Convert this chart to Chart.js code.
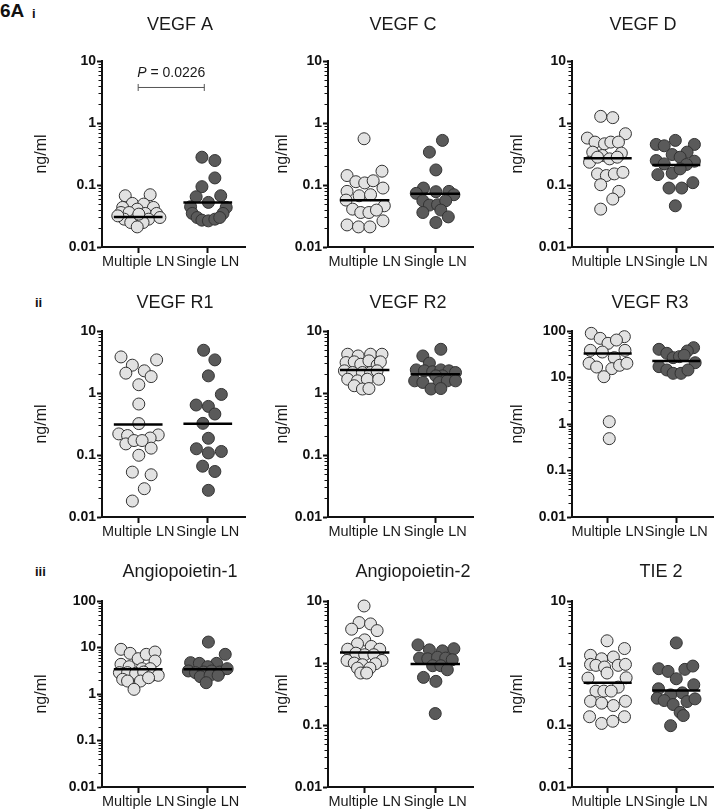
<!DOCTYPE html>
<html>
<head>
<meta charset="utf-8">
<script src="https://cdn.jsdelivr.net/npm/chart.js@4.4.1/dist/chart.umd.min.js"></script>
<style>
  body { margin: 0; background: #fff; width: 720px; height: 812px; position: relative; overflow: hidden;
         font-family: "Liberation Sans", Arial, sans-serif; }
  canvas { position: absolute; }
  .tag { position: absolute; font-weight: bold; color: #111; line-height: 1; }
</style>
</head>
<body>
<div class="tag" style="left:0;top:1px;font-size:19px">6A</div>
<div class="tag" style="left:32px;top:7px;font-size:13px">i</div>
<div class="tag" style="left:35px;top:296px;font-size:13px">ii</div>
<div class="tag" style="left:35px;top:565px;font-size:13px">iii</div>
<script>
const groups = ['Multiple LN', 'Single LN'];
const titles = ['VEGF A', 'VEGF C', 'VEGF D', 'VEGF R1', 'VEGF R2', 'VEGF R3', 'Angiopoietin-1', 'Angiopoietin-2', 'TIE 2'];
const yLabel = 'ng/ml';
const yMin = 0.01;
const yMax = [10, 10, 10, 10, 10, 100, 100, 10, 10];

// horizontal jitter (offset from group centre) and value
const vegfAMultiOff = [-0.186, 0.172, -0.084, 0.079, -0.223, -0.014, 0.219, -0.247, -0.130, 0.102, 0.265, -0.200, -0.037, 0.149, -0.107, 0.070, -0.014, -0.293, 0.312, 0.009];
const vegfAMulti = [0.0671, 0.0697, 0.0505, 0.0492, 0.0435, 0.0408, 0.0435, 0.0360, 0.0360, 0.0348, 0.0348, 0.0281, 0.0281, 0.0281, 0.0248, 0.0248, 0.0211, 0.0318, 0.0299, 0.0339];
const vegfASingleOff = [-0.084, 0.102, 0.102, -0.084, -0.167, 0.186, 0.009, -0.247, 0.265, -0.223, 0.219, -0.153, -0.084, 0.009, 0.102, 0.172];
const vegfASingle = [0.281, 0.248, 0.130, 0.094, 0.0647, 0.0671, 0.0524, 0.0446, 0.0435, 0.0348, 0.0348, 0.0299, 0.0271, 0.0264, 0.0281, 0.0299];

const vegfCMultiOff = [-0.009, -0.25, -0.125, 0, 0.12, 0.245, -0.25, 0.259, -0.079, 0.083, -0.264, 0.278, -0.171, -0.056, 0.06, 0.167, -0.25, -0.088, 0.074, 0.259];
const vegfCMulti = [0.557, 0.142, 0.113, 0.108, 0.117, 0.167, 0.0789, 0.0893, 0.0671, 0.0697, 0.0571, 0.0462, 0.0408, 0.036, 0.036, 0.0394, 0.0227, 0.0211, 0.0211, 0.0264];
const vegfCSingleOff = [0.102, -0.083, 0.009, -0.167, -0.269, 0.009, 0.194, 0.264, -0.176, -0.083, 0.032, 0.148, -0.176, 0.079, 0.185, 0.009];
const vegfCSingle = [0.524, 0.339, 0.175, 0.0893, 0.0733, 0.078, 0.0789, 0.0697, 0.0557, 0.0474, 0.048, 0.0557, 0.036, 0.0394, 0.0306, 0.0248];

const vegfDMultiOff = [-0.102, 0.074, -0.296, 0.259, -0.185, -0.046, 0.046, 0.157, -0.218, -0.079, 0.199, -0.264, -0.148, 0.028, 0.139, -0.148, -0.019, 0.097, 0.222, -0.102, 0.162, 0.074, -0.102];
const vegfDMulti = [1.28, 1.22, 0.571, 0.671, 0.492, 0.462, 0.492, 0.492, 0.339, 0.299, 0.327, 0.233, 0.281, 0.264, 0.281, 0.151, 0.142, 0.151, 0.160, 0.101, 0.0789, 0.0593, 0.0408];
const vegfDSingleOff = [-0.292, -0.176, -0.014, 0.264, 0.157, -0.060, 0.056, -0.292, -0.176, 0.264, 0.148, -0.269, -0.060, 0.056, 0.241, -0.106, 0.079, -0.014];
const vegfDSingle = [0.451, 0.429, 0.524, 0.451, 0.339, 0.310, 0.281, 0.248, 0.219, 0.242, 0.214, 0.147, 0.155, 0.182, 0.109, 0.0893, 0.0893, 0.0462];

const vegfR1MultiOff = [-0.247, -0.084, 0.265, -0.177, 0.088, 0.186, 0.009, 0.009, 0.009, -0.279, -0.153, 0.288, 0.172, -0.177, -0.060, 0.056, 0.186, 0.009, -0.084, 0.186, 0.088, -0.084];
const vegfR1Multi = [3.82, 2.81, 3.42, 2.09, 2.28, 1.84, 1.36, 0.664, 0.321, 0.219, 0.206, 0.211, 0.188, 0.151, 0.171, 0.171, 0.129, 0.099, 0.053, 0.048, 0.0286, 0.0181];
const vegfR1SingleOff = [-0.060, 0.102, 0.009, 0.195, -0.167, 0.009, 0.102, -0.070, 0.009, -0.163, 0.009, 0.195, -0.074, 0.102, 0.009];
const vegfR1Single = [4.89, 3.42, 1.89, 0.948, 0.640, 0.608, 0.458, 0.324, 0.186, 0.126, 0.108, 0.114, 0.066, 0.0542, 0.0269];

const vegfR2MultiOff = [-0.241, -0.093, 0.083, 0.245, -0.264, -0.148, -0.056, 0.060, 0.176, 0.222, -0.287, -0.171, -0.032, 0.083, 0.176, -0.241, -0.102, 0.037, 0.199, -0.148, -0.032, 0.060];
const vegfR2Multi = [4.22, 3.96, 4.22, 4.22, 3.10, 3.18, 2.91, 3.30, 2.81, 3.18, 2.28, 2.14, 2.14, 2.14, 2.28, 1.67, 1.57, 1.67, 1.67, 1.31, 1.16, 1.18];
const vegfR2SingleOff = [0.079, -0.176, -0.083, -0.269, -0.153, -0.037, 0.079, 0.194, 0.287, 0.102, 0.009, -0.292, -0.176, 0.056, 0.171, 0.287, -0.060, 0.079];
const vegfR2Single = [5.07, 3.96, 3.03, 2.36, 2.28, 2.20, 2.36, 2.28, 2.14, 1.89, 1.89, 1.57, 1.48, 1.48, 1.57, 1.57, 1.16, 1.18];

const vegfR3MultiOff = [-0.239, -0.110, 0.243, 0.005, 0.128, -0.252, -0.078, 0.252, 0.096, -0.271, -0.161, 0.060, 0.174, 0.280, -0.055, 0.023, 0.023];
const vegfR3Multi = [89.1, 69.5, 75.5, 54.3, 63.9, 38.4, 35.3, 38.4, 26.7, 20.2, 16.8, 15.5, 18.3, 20.2, 10.4, 1.12, 0.484];
const vegfR3SingleOff = [-0.252, -0.138, 0.252, 0.161, -0.046, 0.046, 0.115, -0.252, 0.275, -0.138, -0.046, 0.069, 0.170];
const vegfR3Single = [40.4, 33.1, 43.8, 37.2, 26.7, 28.1, 30.0, 17.1, 20.8, 14.5, 12.3, 12.3, 14.5];

const ang1MultiOff = [-0.247, -0.116, 0, 0.116, 0.242, 0.242, -0.247, -0.130, 0.056, 0.172, -0.270, -0.153, -0.037, 0.079, 0.195, 0.288, -0.223, 0.033, 0.149, -0.153, -0.060];
const ang1Multi = [9.14, 7.49, 5.75, 7.13, 8.0, 5.13, 4.35, 3.87, 3.51, 3.51, 2.88, 2.88, 2.78, 2.97, 2.52, 2.52, 2.07, 1.90, 2.24, 1.90, 1.26];
const ang1SingleOff = [0.009, 0.251, -0.247, -0.121, 0.126, 0, -0.279, -0.177, -0.060, 0.056, 0.172, 0.279, -0.107, 0.033, 0.149, -0.023];
const ang1Single = [13.1, 7.13, 4.72, 4.56, 4.56, 3.87, 3.13, 2.88, 2.97, 3.13, 2.97, 3.51, 2.36, 2.52, 2.52, 1.75];

const ang2MultiOff = [-0.009, -0.079, 0.083, 0.176, -0.185, 0, -0.102, 0.093, 0.213, -0.241, -0.125, 0, 0.130, -0.250, 0.245, -0.148, -0.032, 0.153, -0.102, 0.074, -0.056, 0.028];
const ang2Multi = [8.31, 4.49, 4.27, 3.33, 3.51, 2.36, 2.04, 1.85, 1.67, 1.67, 1.44, 1.36, 1.36, 1.10, 1.10, 0.996, 0.937, 0.972, 0.828, 0.828, 0.689, 0.689];
const ang2SingleOff = [-0.245, -0.083, 0.102, 0.264, -0.222, -0.106, 0.032, 0.148, 0.241, -0.037, 0.079, -0.167, 0.009, 0.171, 0];
const ang2Single = [1.96, 1.63, 1.57, 1.70, 1.20, 1.17, 1.24, 1.20, 1.13, 0.903, 0.903, 0.586, 0.506, 0.778, 0.153];

const tie2MultiOff = [-0.009, -0.250, -0.088, 0.083, 0.245, -0.250, -0.171, -0.046, 0.153, 0.259, -0.009, -0.287, 0.269, 0.153, -0.171, -0.056, 0.051, -0.250, -0.088, 0.083, 0.259, -0.264, -0.088, 0.074, 0.245];
const tie2Multi = [2.28, 1.33, 1.17, 1.25, 1.71, 0.950, 0.917, 0.861, 0.917, 0.950, 0.689, 0.571, 0.578, 0.408, 0.352, 0.352, 0.352, 0.242, 0.225, 0.206, 0.242, 0.136, 0.106, 0.115, 0.136];
const tie2SingleOff = [0, -0.255, -0.120, 0.125, 0.241, 0, 0.255, -0.259, 0.088, -0.083, -0.278, -0.176, 0.157, 0.273, -0.046, 0.056, 0.102, -0.083];
const tie2Single = [2.11, 0.809, 0.732, 0.790, 0.893, 0.557, 0.446, 0.384, 0.330, 0.306, 0.270, 0.248, 0.239, 0.264, 0.214, 0.160, 0.142, 0.0975];

// median per group [Multiple LN, Single LN]
const medians = [[0.0306, 0.0524], [0.057, 0.072], [0.27, 0.21], [0.31, 0.32], [2.35, 2.0], [33, 22.5], [3.4, 3.4], [1.48, 0.96], [0.48, 0.36]];

// significance bracket on VEGF A
const pSpan = [1, 1.95];
const pLevel = 3.74;
const pValue = '0.0226';

const panels = [
  [[vegfAMultiOff, vegfAMulti], [vegfASingleOff, vegfASingle]],
  [[vegfCMultiOff, vegfCMulti], [vegfCSingleOff, vegfCSingle]],
  [[vegfDMultiOff, vegfDMulti], [vegfDSingleOff, vegfDSingle]],
  [[vegfR1MultiOff, vegfR1Multi], [vegfR1SingleOff, vegfR1Single]],
  [[vegfR2MultiOff, vegfR2Multi], [vegfR2SingleOff, vegfR2Single]],
  [[vegfR3MultiOff, vegfR3Multi], [vegfR3SingleOff, vegfR3Single]],
  [[ang1MultiOff, ang1Multi], [ang1SingleOff, ang1Single]],
  [[ang2MultiOff, ang2Multi], [ang2SingleOff, ang2Single]],
  [[tie2MultiOff, tie2Multi], [tie2SingleOff, tie2Single]]
];

// layout
const cols = [
  { left: 0, w: 252, axisW: 102, padR: 2, yTitlePad: 32 },
  { left: 250, w: 230, axisW: 78, padR: 3, yTitlePad: 23 },
  { left: 490, w: 230, axisW: 82, padR: 0, yTitlePad: 18 }
];
const rows = [
  { top: 0, h: 270, titleY: 25 },
  { top: 270, h: 270, titleY: 33 },
  { top: 540, h: 272, titleY: 32 }
];
const titleCx = [180, 403, 643, 175, 408, 650, 180, 413, 661];
const FONT = '"Liberation Sans", Arial, sans-serif';
const pointFill = ['#e2e2e2', '#5a5a5a'];

const isMajor = v => { const l = Math.log10(v); return Math.abs(l - Math.round(l)) < 1e-6; };

const panelDecor = {
  id: 'panelDecor',
  afterDraw(chart, args, opts) {
    const ctx = chart.ctx, ys = chart.scales.y, xs = chart.scales.x;
    const x0 = chart.chartArea.left;
    ctx.save();
    // short minor ticks on the log axis
    ctx.strokeStyle = '#111';
    ctx.lineWidth = 1;
    ys.ticks.forEach(t => {
      if (isMajor(t.value)) return;
      const py = Math.round(ys.getPixelForValue(t.value)) + 0.5;
      ctx.beginPath(); ctx.moveTo(x0 - 3.5, py); ctx.lineTo(x0 - 1, py); ctx.stroke();
    });
    ctx.fillStyle = '#1a1a1a';
    ctx.textBaseline = 'middle';
    ctx.textAlign = 'center';
    ctx.font = '18px ' + FONT;
    ctx.fillText(opts.text, opts.x, opts.y);
    if (opts.p) {
      const cx = xs.getPixelForValue((pSpan[0] + pSpan[1]) / 2);
      const cy = ys.getPixelForValue(pLevel) - 14;
      const rest = ' = ' + pValue;
      ctx.font = 'italic 14px ' + FONT;
      const w1 = ctx.measureText('P').width;
      ctx.font = '14px ' + FONT;
      const w2 = ctx.measureText(rest).width;
      const sx = cx - (w1 + w2) / 2;
      ctx.textAlign = 'left';
      ctx.font = 'italic 14px ' + FONT;
      ctx.fillText('P', sx, cy);
      ctx.font = '14px ' + FONT;
      ctx.fillText(rest, sx + w1, cy);
    }
    ctx.restore();
  }
};

panels.forEach((groupsData, i) => {
  const col = cols[i % 3], row = rows[Math.floor(i / 3)];
  const cv = document.createElement('canvas');
  cv.width = col.w; cv.height = row.h;
  cv.style.left = col.left + 'px'; cv.style.top = row.top + 'px';
  document.body.appendChild(cv);

  const datasets = [];
  groupsData.forEach(([offs, vals], g) => {
    const c = g + 1;
    datasets.push({
      data: vals.map((v, k) => ({ x: c + offs[k], y: v })),
      backgroundColor: pointFill[g],
      borderColor: '#333',
      borderWidth: 1,
      pointRadius: 6,
      clip: false,
      order: 2
    });
    datasets.push({
      data: [{ x: c - 0.35, y: medians[i][g] }, { x: c + 0.35, y: medians[i][g] }],
      showLine: true,
      borderColor: '#000',
      borderWidth: 2.5,
      pointRadius: 0,
      order: 1
    });
  });
  if (i === 0) {
    datasets.push({
      data: pSpan.map(x => ({ x: x, y: pLevel })),
      showLine: true,
      borderColor: '#555',
      borderWidth: 1,
      pointStyle: 'line',
      rotation: 90,
      pointRadius: 3.5,
      pointBorderColor: '#555',
      pointBorderWidth: 1,
      order: 1
    });
  }

  new Chart(cv.getContext('2d'), {
    type: 'scatter',
    data: { datasets },
    options: {
      responsive: false,
      animation: false,
      events: [],
      layout: { padding: { top: 61, left: 0, right: col.padR, bottom: row.h - 61 - 186 - 22 } },
      plugins: {
        legend: { display: false },
        tooltip: { enabled: false },
        panelDecor: { text: titles[i], x: titleCx[i] - col.left, y: row.titleY, p: i === 0 }
      },
      scales: {
        x: {
          type: 'linear',
          min: 0.48,
          max: 2.535,
          afterBuildTicks: s => { s.ticks = [{ value: 1 }, { value: 2 }]; },
          afterFit: s => { s.height = 22; },
          ticks: {
            autoSkip: false, maxRotation: 0, padding: 0, color: '#1a1a1a',
            font: { size: 14.5, family: FONT },
            callback: v => groups[Math.round(v) - 1]
          },
          grid: { drawOnChartArea: false, tickLength: 6, tickWidth: 2, tickColor: '#111' },
          border: { color: '#111', width: 2 }
        },
        y: {
          type: 'logarithmic',
          min: yMin,
          max: yMax[i],
          afterBuildTicks: s => {
            const t = [];
            const e0 = Math.round(Math.log10(yMin)), e1 = Math.round(Math.log10(yMax[i]));
            for (let e = e0; e < e1; e++) {
              for (let k = 1; k < 10; k++) t.push({ value: +(k * Math.pow(10, e)).toPrecision(3) });
            }
            t.push({ value: yMax[i] });
            s.ticks = t;
          },
          afterFit: s => { s.width = col.axisW; },
          ticks: {
            autoSkip: false, padding: 1, color: '#111',
            font: { size: 14, weight: 'bold', family: FONT },
            callback: v => isMajor(v) ? String(+v.toPrecision(3)) : ''
          },
          grid: {
            drawOnChartArea: false, tickLength: 5, tickWidth: 2,
            tickColor: ctx => (ctx.tick && isMajor(ctx.tick.value)) ? '#111' : 'rgba(0,0,0,0)'
          },
          border: { color: '#111', width: 2 },
          title: {
            display: true, text: yLabel, color: '#1a1a1a',
            font: { size: 16, family: FONT, lineHeight: 1.2 },
            padding: { top: col.yTitlePad, bottom: 0 }
          }
        }
      }
    },
    plugins: [panelDecor]
  });
});
</script>
</body>
</html>
